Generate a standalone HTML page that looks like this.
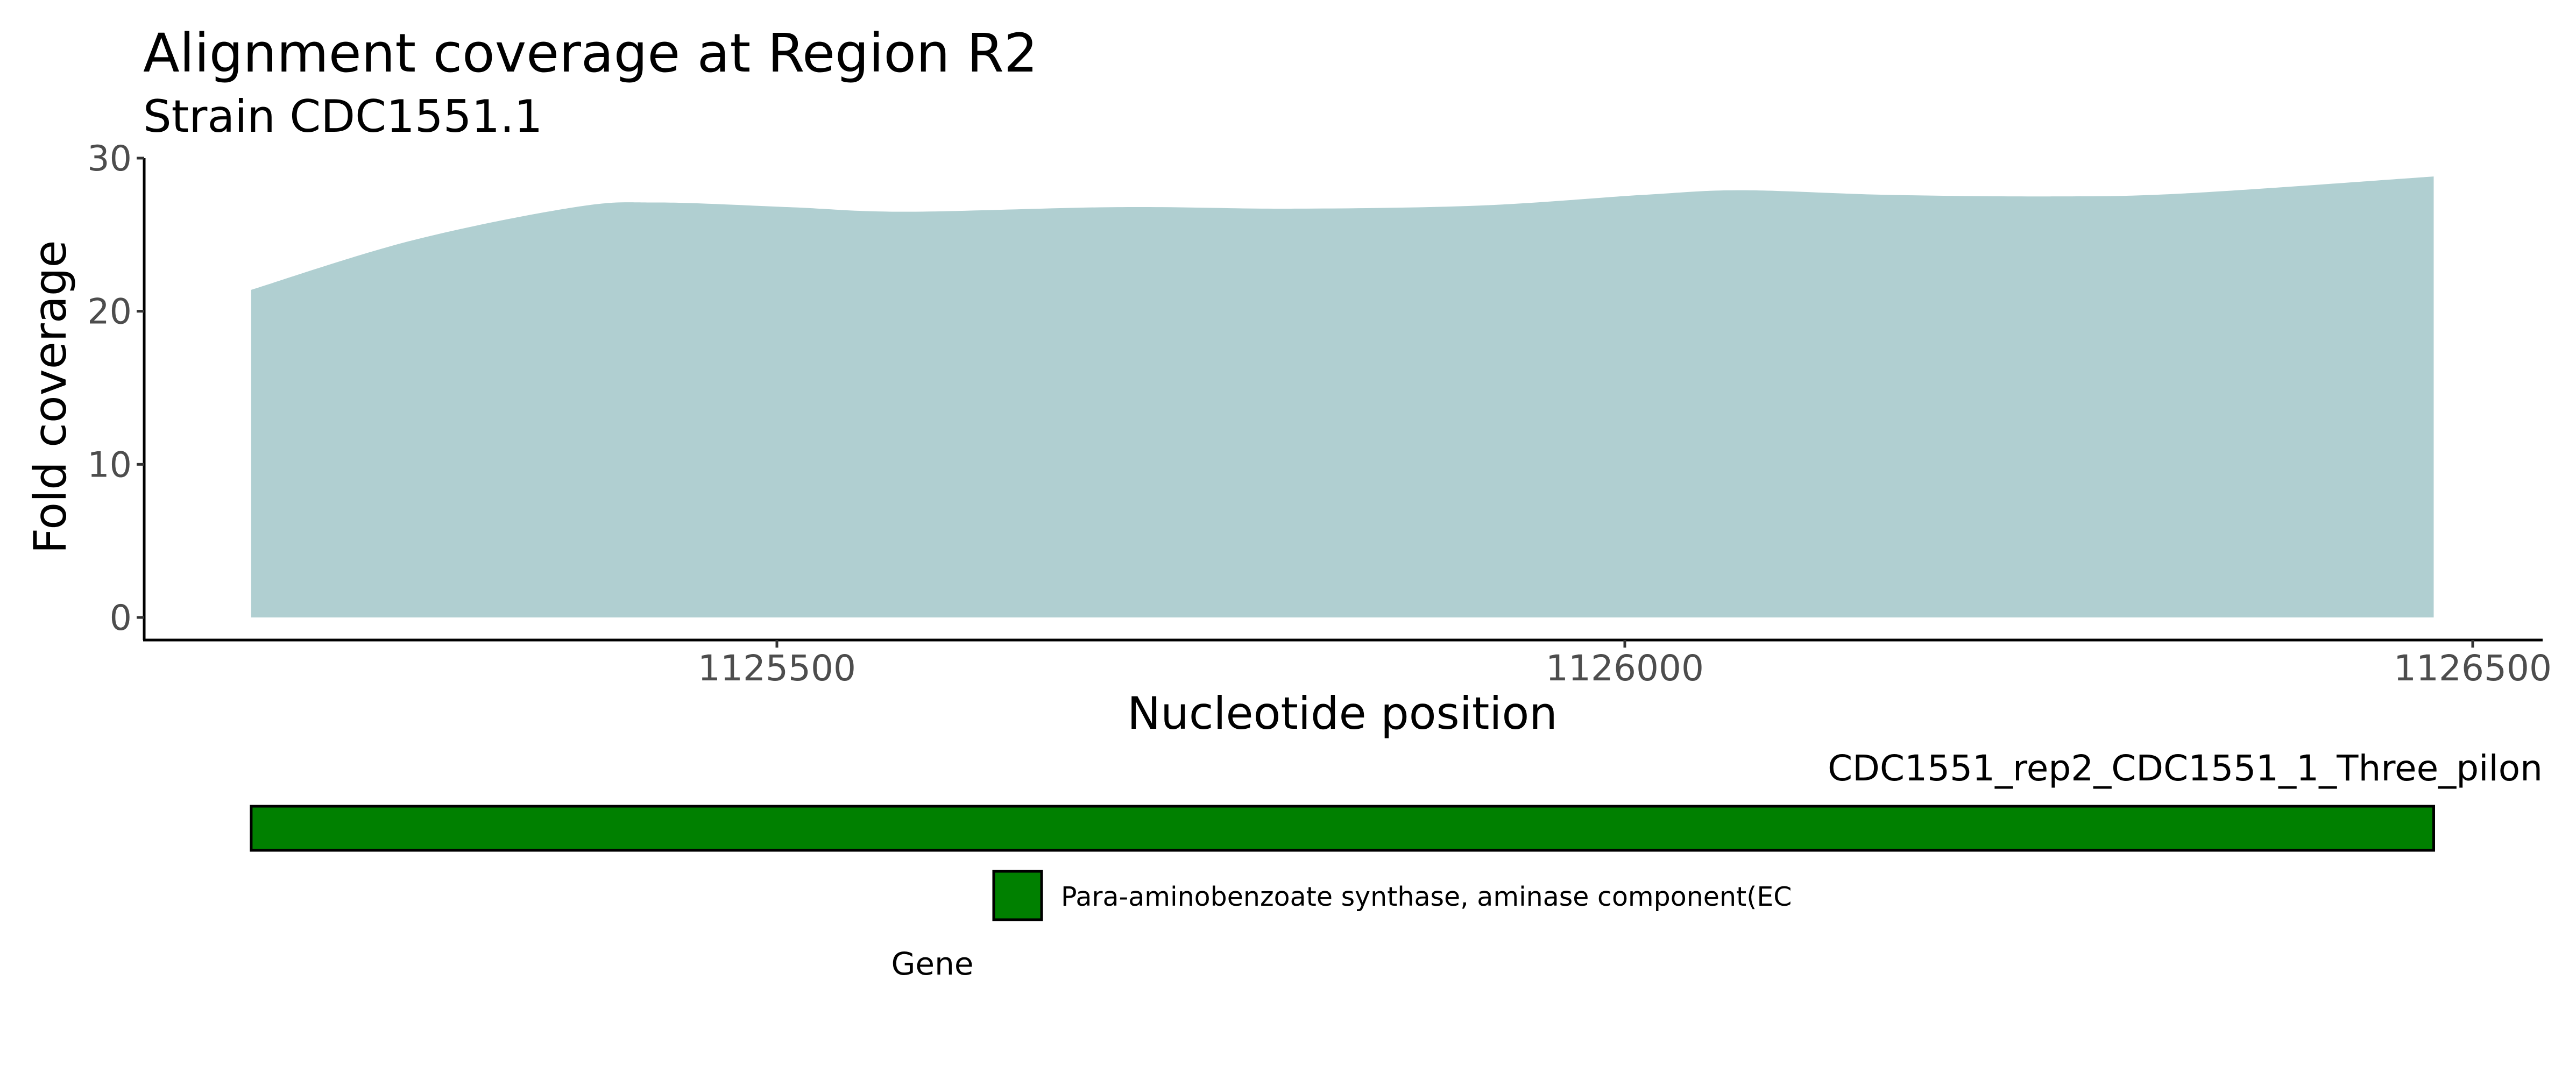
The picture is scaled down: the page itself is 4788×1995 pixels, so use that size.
<!DOCTYPE html>
<html><head><meta charset="utf-8"><style>
html,body{margin:0;padding:0;background:#fff;}
svg{display:block;font-family:"DejaVu Sans","Liberation Sans",sans-serif;}
</style></head><body>
<svg id="chart" width="4788" height="1995" viewBox="0 0 4788 1995" xmlns="http://www.w3.org/2000/svg">
<text x="266" y="133" font-size="99" fill="#000">Alignment coverage at Region R2</text>
<text x="266" y="245" font-size="83" fill="#000">Strain CDC1551.1</text>
<g id="plot"></g>
<line x1="268" y1="294" x2="268" y2="1190" stroke="#000" stroke-width="5"/>
<line x1="266" y1="1190" x2="4726" y2="1190" stroke="#000" stroke-width="5"/>
<g id="yticks"></g>
<g id="xticks"></g>
<text transform="translate(122,738) rotate(-90)" text-anchor="middle" font-size="83" fill="#000">Fold coverage</text>
<text x="2495" y="1355" text-anchor="middle" font-size="83" fill="#000">Nucleotide position</text>
<text x="4726" y="1451" text-anchor="end" font-size="66" fill="#000">CDC1551_rep2_CDC1551_1_Three_pilon</text>
<g id="genes"></g>
<rect x="1847" y="1620" width="89" height="90" fill="#008000" stroke="#000" stroke-width="5"/>
<text x="1972" y="1684" font-size="49" fill="#000">Para-aminobenzoate synthase, aminase component(EC</text>
<text x="1733" y="1812" text-anchor="middle" font-size="58" fill="#000">Gene</text>
</svg>
<script>
const positions = [1125190, 1125284, 1125381, 1125430, 1125507, 1125575, 1125701, 1125803, 1125914, 1126011, 1126069, 1126156, 1126253, 1126331, 1126477];
const coverage = [21.4, 24.6, 26.8, 27.1, 26.8, 26.5, 26.8, 26.7, 26.9, 27.6, 27.9, 27.6, 27.5, 27.7, 28.8];
const yTicks = [0, 10, 20, 30];
const xTicks = [1125500, 1126000, 1126500];
const geneStarts = [1125190];
const geneEnds = [1126477];

const NS = "http://www.w3.org/2000/svg";
const xs = v => 1444 + (v - 1125500) * (4596 - 1444) / 1000;
const ys = v => 1148 - v * (1148 - 294) / 30;
function mk(tag, attrs, parent) {
  const e = document.createElementNS(NS, tag);
  for (const k in attrs) e.setAttribute(k, attrs[k]);
  parent.appendChild(e);
  return e;
}
const plot = document.getElementById('plot');
const pts = positions.map((p, i) => [xs(p), ys(coverage[i])]);
let d = `M${pts[0][0]},${ys(0)} L${pts[0][0]},${pts[0][1]}`;
for (let i = 0; i < pts.length - 1; i++) {
  const p0 = pts[Math.max(0, i - 1)], p1 = pts[i], p2 = pts[i + 1], p3 = pts[Math.min(pts.length - 1, i + 2)];
  const c1 = [p1[0] + (p2[0] - p0[0]) / 6, p1[1] + (p2[1] - p0[1]) / 6];
  const c2 = [p2[0] - (p3[0] - p1[0]) / 6, p2[1] - (p3[1] - p1[1]) / 6];
  d += ` C${c1[0]},${c1[1]} ${c2[0]},${c2[1]} ${p2[0]},${p2[1]}`;
}
d += ` L${pts[pts.length - 1][0]},${ys(0)} Z`;
const area = mk('path', {d: d, fill: '#b0cfd1'}, plot);



const yg = document.getElementById('yticks');
yTicks.forEach(t => {
  const l = mk('line', {x1: 254, x2: 268, y1: ys(t), y2: ys(t), stroke: '#333', 'stroke-width': 5}, yg);
  
  
  const tx = mk('text', {x: 245, y: ys(t) + 23, 'text-anchor': 'end', 'font-size': 65, fill: '#4d4d4d'}, yg);
  tx.textContent = t;
  
  
});
const xg = document.getElementById('xticks');
xTicks.forEach(t => {
  const l = mk('line', {x1: xs(t), x2: xs(t), y1: 1190, y2: 1204, stroke: '#333', 'stroke-width': 5}, xg);
  
  
  const tx = mk('text', {x: xs(t), y: 1265, 'text-anchor': 'middle', 'font-size': 66, fill: '#4d4d4d'}, xg);
  tx.textContent = t;
  
  
});
const gg = document.getElementById('genes');
geneStarts.forEach((s, i) => {
  const r = mk('rect', {x: xs(s), y: 1499, width: xs(geneEnds[i]) - xs(s), height: 82, fill: '#008000', stroke: '#000', 'stroke-width': 5}, gg);
  
  
});
</script>
</body></html>
